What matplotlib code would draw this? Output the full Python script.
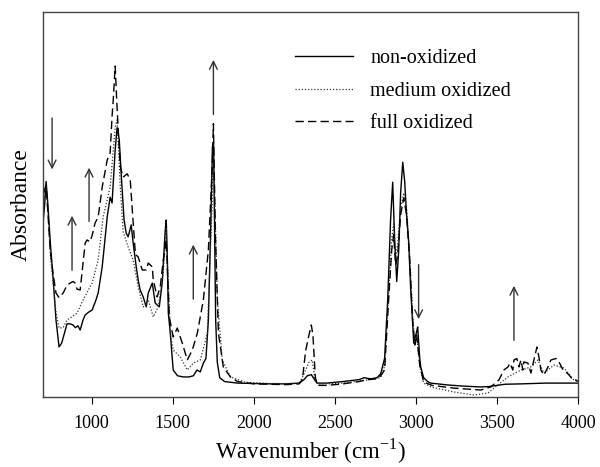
import matplotlib
matplotlib.use("Agg")
import matplotlib.pyplot as plt

plt.rcParams['font.family'] = ['Liberation Serif', 'DejaVu Serif']

# non-oxidized (solid)
non_wn = [700, 710, 719, 730, 745, 762, 780, 799, 815, 835, 848, 867, 885, 900, 915, 929,
          947, 960, 980, 1003, 1025, 1040, 1065, 1080, 1096, 1114, 1126, 1145, 1157, 1170,
          1185, 1200, 1213, 1225, 1244, 1256, 1275, 1287, 1299, 1318, 1337, 1349, 1374,
          1392, 1417, 1435, 1454, 1460, 1466, 1473, 1485, 1503, 1530, 1565, 1600, 1627,
          1650, 1670, 1689, 1705, 1720, 1735, 1745, 1752, 1758, 1765, 1775, 1790, 1820,
          1900, 2000, 2100, 2200, 2280, 2310, 2330, 2355, 2375, 2390, 2450, 2550, 2650,
          2680, 2720, 2760, 2783, 2807, 2826, 2844, 2857, 2869, 2882, 2894, 2906, 2919,
          2931, 2943, 2956, 2968, 2987, 3005, 3011, 3024, 3030, 3048, 3073, 3091, 3200,
          3300, 3400, 3450, 3500, 3550, 3650, 3800, 4000]
non_abs = [0.45, 0.50, 0.56, 0.50, 0.40, 0.31, 0.20, 0.13, 0.14, 0.17, 0.19, 0.19, 0.187,
           0.18, 0.185, 0.174, 0.20, 0.213, 0.22, 0.226, 0.25, 0.27, 0.338, 0.40, 0.468,
           0.519, 0.504, 0.642, 0.70, 0.67, 0.56, 0.46, 0.426, 0.416, 0.447, 0.40, 0.338,
           0.304, 0.278, 0.26, 0.234, 0.27, 0.296, 0.244, 0.234, 0.296, 0.434, 0.46, 0.374,
           0.218, 0.166, 0.07, 0.055, 0.052, 0.052, 0.055, 0.07, 0.065, 0.088, 0.10, 0.20,
           0.45, 0.65, 0.66, 0.45, 0.20, 0.09, 0.05, 0.04, 0.036, 0.035, 0.034, 0.034,
           0.036, 0.045, 0.055, 0.058, 0.045, 0.036, 0.036, 0.04, 0.045, 0.05, 0.047, 0.05,
           0.06, 0.10, 0.25, 0.46, 0.558, 0.41, 0.30, 0.38, 0.53, 0.61, 0.56, 0.47, 0.40,
           0.28, 0.14, 0.17, 0.182, 0.10, 0.078, 0.05, 0.04, 0.036, 0.031, 0.028, 0.026,
           0.027, 0.03, 0.033, 0.034, 0.036, 0.036]

# medium oxidized (dotted)
med_wn = [700, 710, 719, 730, 745, 762, 780, 799, 824, 848, 885, 910, 947, 1003, 1040,
          1071, 1114, 1145, 1157, 1176, 1194, 1225, 1256, 1287, 1318, 1349, 1380, 1411,
          1442, 1460, 1485, 1503, 1547, 1590, 1627, 1670, 1714, 1744, 1751, 1775, 1806,
          1856, 1950, 2100, 2280, 2310, 2340, 2360, 2380, 2400, 2550, 2700, 2783, 2807,
          2832, 2851, 2863, 2875, 2888, 2906, 2925, 2943, 2962, 2980, 2993, 3005, 3024,
          3048, 3100, 3234, 3357, 3444, 3506, 3568, 3648, 3710, 3753, 3790, 3852, 3914,
          3975, 4000]
med_abs = [0.48, 0.53, 0.55, 0.48, 0.37, 0.296, 0.22, 0.179, 0.18, 0.20, 0.21, 0.218, 0.252,
           0.296, 0.356, 0.468, 0.545, 0.70, 0.72, 0.55, 0.43, 0.39, 0.356, 0.286, 0.234,
           0.252, 0.208, 0.234, 0.322, 0.44, 0.166, 0.122, 0.104, 0.07, 0.088, 0.096, 0.166,
           0.51, 0.66, 0.252, 0.096, 0.052, 0.038, 0.035, 0.035, 0.06, 0.09, 0.096, 0.04,
           0.033, 0.036, 0.044, 0.05, 0.08, 0.27, 0.41, 0.45, 0.36, 0.40, 0.49, 0.53, 0.49,
           0.37, 0.21, 0.14, 0.16, 0.08, 0.036, 0.025, 0.013, 0.005, 0.01, 0.031, 0.052,
           0.07, 0.078, 0.096, 0.062, 0.083, 0.075, 0.044, 0.04]

# full oxidized (dashed)
full_wn = [700, 710, 719, 730, 745, 762, 780, 799, 824, 848, 867, 885, 898, 910, 929, 947,
           960, 972, 990, 1003, 1021, 1040, 1065, 1096, 1114, 1126, 1133, 1145, 1157, 1176,
           1194, 1219, 1238, 1250, 1270, 1287, 1312, 1337, 1349, 1374, 1380, 1404, 1423,
           1442, 1460, 1479, 1503, 1528, 1559, 1590, 1621, 1652, 1689, 1720, 1744, 1751,
           1763, 1782, 1812, 1856, 1900, 2000, 2100, 2200, 2280, 2300, 2320, 2340, 2355,
           2365, 2380, 2395, 2450, 2550, 2650, 2700, 2760, 2783, 2807, 2832, 2851, 2863,
           2875, 2888, 2906, 2925, 2943, 2962, 2980, 2993, 3005, 3024, 3048, 3100, 3234,
           3400, 3462, 3512, 3543, 3568, 3580, 3598, 3605, 3623, 3636, 3648, 3660, 3666,
           3691, 3710, 3728, 3747, 3759, 3771, 3790, 3815, 3833, 3864, 3883, 3908, 3926,
           3945, 3969, 3988, 4000]
full_abs = [0.50, 0.54, 0.55, 0.48, 0.38, 0.32, 0.27, 0.258, 0.27, 0.29, 0.296, 0.30, 0.296,
            0.28, 0.278, 0.348, 0.40, 0.408, 0.403, 0.42, 0.452, 0.467, 0.545, 0.616, 0.634,
            0.73, 0.77, 0.86, 0.75, 0.60, 0.571, 0.58, 0.564, 0.49, 0.37, 0.364, 0.33, 0.33,
            0.348, 0.338, 0.304, 0.26, 0.286, 0.356, 0.408, 0.208, 0.156, 0.179, 0.14, 0.096,
            0.122, 0.166, 0.252, 0.382, 0.60, 0.71, 0.426, 0.166, 0.078, 0.052, 0.04, 0.034,
            0.033, 0.032, 0.034, 0.045, 0.12, 0.16, 0.187, 0.16, 0.05, 0.03, 0.03, 0.034,
            0.04, 0.045, 0.047, 0.055, 0.07, 0.252, 0.382, 0.422, 0.343, 0.369, 0.473, 0.517,
            0.473, 0.356, 0.20, 0.135, 0.161, 0.083, 0.039, 0.03, 0.023, 0.018, 0.026, 0.044,
            0.07, 0.078, 0.088, 0.07, 0.096, 0.10, 0.078, 0.096, 0.07, 0.091, 0.088, 0.062,
            0.096, 0.13, 0.104, 0.07, 0.057, 0.078, 0.096, 0.10, 0.091, 0.07, 0.065, 0.057,
            0.044, 0.044, 0.04]

# arrows: (wavenumber, tail, head)
arrows = [(756, 0.732, 0.584), (879, 0.322, 0.478), (984, 0.449, 0.603),
          (1627, 0.247, 0.403), (1751, 0.727, 0.883), (3017, 0.351, 0.195),
          (3605, 0.140, 0.296)]

fig = plt.figure(figsize=(6, 4.67), dpi=100)
ax = fig.add_axes([0.0717, 0.150, 0.8916, 0.824])

ax.plot(non_wn, non_abs, color='black', lw=1.0, label='non-oxidized')
ax.plot(med_wn, med_abs, color='#333333', lw=0.9, linestyle=(0, (1, 1.5)), label='medium oxidized')
ax.plot(full_wn, full_abs, color='black', lw=1.0, linestyle=(0, (6, 3)), label='full oxidized')

for x, y0, y1 in arrows:
    ax.annotate('', xy=(x, y1), xytext=(x, y0),
                arrowprops=dict(arrowstyle='->', color='#333333', lw=1.0, mutation_scale=14))

ax.set_xlim(700, 4000)
ax.set_ylim(0, 1)
ax.set_xticks([1000, 1500, 2000, 2500, 3000, 3500, 4000])
ax.set_yticks([])
ax.tick_params(axis='x', direction='out', length=5, labelsize=13, pad=8)
for s in ax.spines.values():
    s.set_color('#444444')
    s.set_linewidth(1.0)

ax.set_xlabel('Wavenumber (cm$^{\\mathregular{-1}}$)', fontsize=16.5, labelpad=3)
ax.set_ylabel('Absorbance', fontsize=17, labelpad=8)

ax.legend(loc='upper left', bbox_to_anchor=(0.437, 0.952), frameon=False, fontsize=14.5,
          handlelength=2.9, labelspacing=0.68, handletextpad=0.85)

fig.savefig('out.png', dpi=100)
